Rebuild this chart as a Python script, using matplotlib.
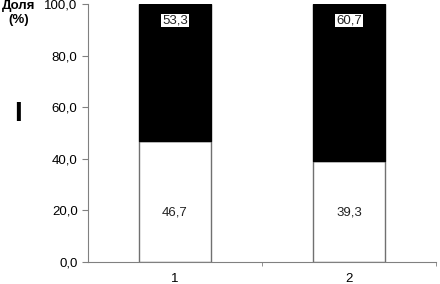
import matplotlib
matplotlib.use("Agg")
import matplotlib.pyplot as plt
from matplotlib.ticker import FuncFormatter

categories = ["1", "2"]
white_vals = [46.7, 39.3]
black_vals = [53.3, 60.7]
yticks = [0, 20, 40, 60, 80, 100]

plt.rcParams['font.family'] = ['Liberation Sans', 'DejaVu Sans']

fig = plt.figure(figsize=(4.4, 2.84), dpi=100)
ax = fig.add_axes([0.2, 0.0775, 0.791, 0.9085])

x = range(len(categories))
w = 0.41
ax.bar(x, white_vals, width=w, color='white', edgecolor='#707070', linewidth=1.0)
ax.bar(x, black_vals, bottom=white_vals, width=w, color='black', edgecolor='black', linewidth=1.0)

for i in x:
    ax.text(i, 19, f"{white_vals[i]:.1f}".replace('.', ','),
            ha='center', va='center', fontsize=9.5, color='#222222')
    ax.text(i, 93.5, f"{black_vals[i]:.1f}".replace('.', ','), ha='center', va='center',
            fontsize=9.5, color='#222222',
            bbox=dict(facecolor='white', edgecolor='none', pad=0.5))

ax.set_xlim(-0.5, 1.5)
ax.set_ylim(0, 100)
ax.set_yticks(yticks)
ax.yaxis.set_major_formatter(FuncFormatter(lambda v, p: f"{v:.1f}".replace('.', ',')))
ax.set_xticks([0, 1])
ax.set_xticklabels(categories)
ax.set_xticks([0.5, 1.5], minor=True)
ax.tick_params(axis='x', which='major', length=0, labelsize=9.5, pad=8)
ax.tick_params(axis='x', which='minor', length=3, color='#808080', direction='out')
ax.tick_params(axis='y', length=4, color='#808080', labelsize=9.5, direction='out')
for s in ['top', 'right']:
    ax.spines[s].set_visible(False)
for s in ['left', 'bottom']:
    ax.spines[s].set_color('#808080')

fig.text(0.043, 0.955, "Доля\n(%)", ha='center', va='center', fontsize=9.5,
         fontweight='bold', linespacing=1.2)
fig.text(0.042, 0.6, "I", ha='center', va='center', fontsize=20, fontweight='bold')

fig.savefig("out.png", dpi=100)
